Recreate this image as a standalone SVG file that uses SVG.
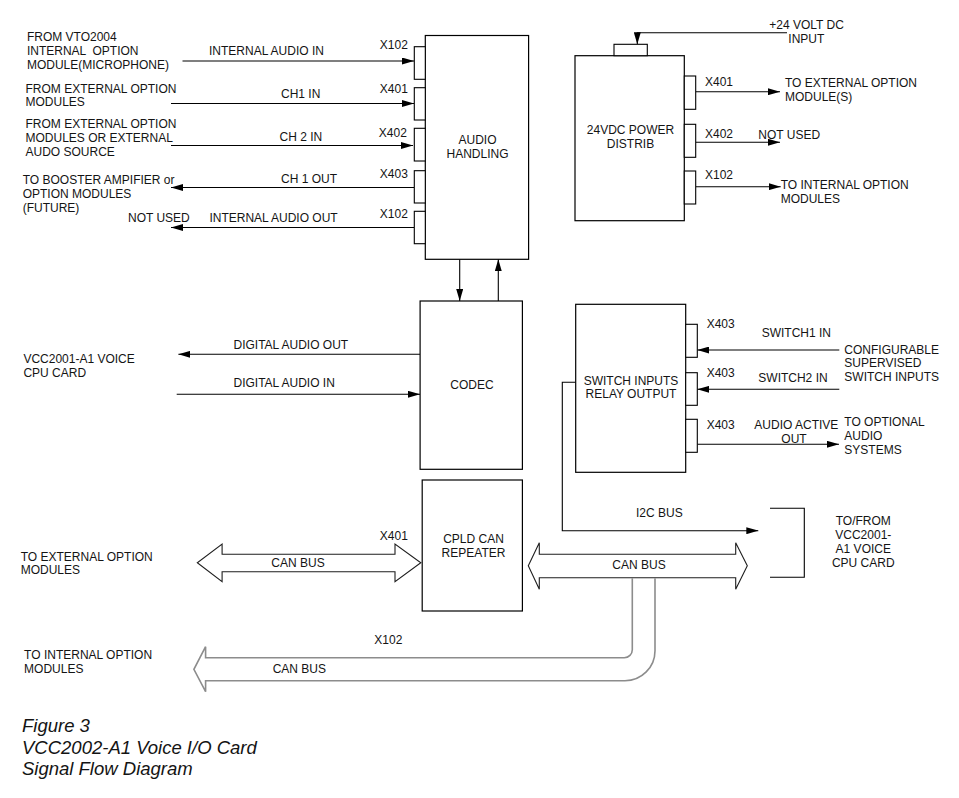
<svg xmlns="http://www.w3.org/2000/svg" width="959" height="798" viewBox="0 0 959 798">
<style>
text{font-family:"Liberation Sans",Arial,sans-serif;font-size:12px;fill:#141414}
.c{text-anchor:middle}
.cap{font-size:18.5px;font-style:italic}
.box{fill:#fff;stroke:#000;stroke-width:1.2}
.tab{fill:#fff;stroke:#000;stroke-width:1.1}
.ln{fill:none;stroke:#000;stroke-width:1.1}
.arr{marker-end:url(#ah)}
.bus{fill:#fff;stroke:#1e1e1e;stroke-width:1.1}
.gbus{fill:none;stroke:#8c8c8c;stroke-width:1.6}
</style>
<defs>
<marker id="ah" viewBox="0 0 12 7" refX="12" refY="3.5" markerWidth="12" markerHeight="7" markerUnits="userSpaceOnUse" orient="auto"><path d="M0,0 L12,3.5 L0,7 z" fill="#000"/></marker>
</defs>
<rect width="959" height="798" fill="#fff"/>

<g id="connectors">
<path class="ln arr" d="M182.5,61 H414"/>
<path class="ln arr" d="M171,103.5 H414"/>
<path class="ln arr" d="M171,145.5 H413"/>
<path class="ln arr" d="M414,187.5 H171"/>
<path class="ln arr" d="M414,227.5 H171"/>
<path class="ln arr" d="M459.7,259.3 V301"/>
<path class="ln arr" d="M498.3,301 V259.3"/>
<path class="ln arr" d="M420,354.3 H178.4"/>
<path class="ln arr" d="M176.7,394.3 H420"/>
<path class="ln arr" d="M787,32.7 H637.3 V44.3"/>
<path class="ln arr" d="M695.7,91.7 H780"/>
<path class="ln arr" d="M695.7,142.3 H780"/>
<path class="ln arr" d="M695.7,186.7 H780.7"/>
<path class="ln arr" d="M839.3,350 H697.3"/>
<path class="ln arr" d="M839.3,389.3 H697.3"/>
<path class="ln arr" d="M697.3,444.3 H839"/>
<path class="ln arr" d="M575.7,382.3 H562.3 V530.7 H758.3"/>
<path class="ln" d="M770,508.3 H804.3 V577.3 H770"/>
<path class="bus" d="M222.1,554.3 V544 L197.3,562.7 L222.1,581.7 V571.7 H395 V581.7 L420.8,562.7 L395,544 V554.3 Z"/>
<path class="bus" d="M539.3,554.3 V542.7 L528.3,565.7 L539.3,589.3 V577.7 H735.7 V589.3 L747.3,565.7 L735.7,542.7 V554.3 Z"/>
<path class="gbus" d="M632.3,578.3 V649.7 A8,8 0 0 1 624.3,657.7 H205.6 V646.7 L193.9,669.3 L205.6,691.7 V680.7 H625 A30,30 0 0 0 655,650.7 V578.3"/>
</g>

<g id="audio-handling">
<rect class="box" x="425.3" y="35.5" width="103.3" height="223.8"/>
<rect class="tab" x="414.3" y="46.7" width="11" height="32.6"/>
<rect class="tab" x="414.3" y="87.7" width="11" height="32.3"/>
<rect class="tab" x="414.3" y="128.3" width="11" height="32.7"/>
<rect class="tab" x="414.3" y="170.7" width="11" height="32.3"/>
<rect class="tab" x="414.3" y="211.3" width="11" height="32.4"/>
<text class="c" x="477.5" y="144">AUDIO</text>
<text class="c" x="477.5" y="157.7">HANDLING</text>
</g>

<g id="codec">
<rect class="box" x="420.1" y="301" width="102.3" height="168.3"/>
<text class="c" x="472" y="389">CODEC</text>
</g>

<g id="cpld">
<rect class="box" x="422.2" y="480" width="100.2" height="131"/>
<text class="c" x="473.5" y="542.7">CPLD CAN</text>
<text class="c" x="473.5" y="556.7">REPEATER</text>
</g>

<g id="power">
<rect class="box" x="575" y="55.7" width="109.3" height="165"/>
<rect class="tab" x="614" y="44.3" width="33.3" height="11.4"/>
<rect class="tab" x="684.3" y="76" width="11.4" height="33.3"/>
<rect class="tab" x="684.3" y="124.3" width="11.4" height="33"/>
<rect class="tab" x="684.3" y="171" width="11.4" height="33"/>
<text class="c" x="630.5" y="134.3">24VDC POWER</text>
<text class="c" x="630.5" y="147.7">DISTRIB</text>
</g>

<g id="switch">
<rect class="box" x="575.7" y="304.3" width="110" height="168"/>
<rect class="tab" x="685.7" y="324.3" width="11.6" height="33"/>
<rect class="tab" x="685.7" y="372.7" width="11.6" height="32.6"/>
<rect class="tab" x="685.7" y="419.3" width="11.6" height="33"/>
<text class="c" x="631" y="384.8">SWITCH INPUTS</text>
<text class="c" x="631" y="398">RELAY OUTPUT</text>
</g>

<g id="labels">
<text x="26.9" y="41">FROM VTO2004</text>
<text x="26.9" y="55" xml:space="preserve">INTERNAL  OPTION</text>
<text x="26.9" y="69">MODULE(MICROPHONE)</text>
<text x="25.5" y="93">FROM EXTERNAL OPTION</text>
<text x="25.5" y="106">MODULES</text>
<text x="25.5" y="128.3">FROM EXTERNAL OPTION</text>
<text x="25.5" y="142.3">MODULES OR EXTERNAL</text>
<text x="25.5" y="156">AUDO SOURCE</text>
<text x="22.7" y="184">TO BOOSTER AMPIFIER or</text>
<text x="22.7" y="197.7">OPTION MODULES</text>
<text x="22.7" y="211.7">(FUTURE)</text>
<text x="128" y="222.3">NOT USED</text>

<text x="209" y="55">INTERNAL AUDIO IN</text>
<text x="281" y="98.3">CH1 IN</text>
<text x="279.6" y="140.7">CH 2 IN</text>
<text x="281" y="182.7">CH 1 OUT</text>
<text x="209.4" y="222.3">INTERNAL AUDIO OUT</text>
<text x="379.8" y="49.3">X102</text>
<text x="379.8" y="92.7">X401</text>
<text x="378.8" y="136.7">X402</text>
<text x="379.8" y="177.7">X403</text>
<text x="379.8" y="217.7">X102</text>

<text x="233.5" y="349.3">DIGITAL AUDIO OUT</text>
<text x="233.5" y="387.3">DIGITAL AUDIO IN</text>
<text x="23.4" y="363.3">VCC2001-A1 VOICE</text>
<text x="23.4" y="376.7">CPU CARD</text>

<text x="769.3" y="29.3">+24 VOLT DC</text>
<text x="788.3" y="43.3">INPUT</text>
<text x="705" y="86">X401</text>
<text x="705" y="137.7">X402</text>
<text x="705" y="179.3">X102</text>
<text x="785" y="86.7">TO EXTERNAL OPTION</text>
<text x="785" y="100.7">MODULE(S)</text>
<text x="758.3" y="139">NOT USED</text>
<text x="780.7" y="189.3">TO INTERNAL OPTION</text>
<text x="780.7" y="203.3">MODULES</text>

<text x="706.7" y="327.7">X403</text>
<text x="706.7" y="376.7">X403</text>
<text x="706.7" y="429">X403</text>
<text x="761.7" y="336.7">SWITCH1 IN</text>
<text x="758.3" y="382.3">SWITCH2 IN</text>
<text x="754.3" y="429">AUDIO ACTIVE</text>
<text class="c" x="794" y="442.7">OUT</text>
<text x="844.3" y="354.3">CONFIGURABLE</text>
<text x="844.3" y="367.3">SUPERVISED</text>
<text x="844.3" y="380.7">SWITCH INPUTS</text>
<text x="844.3" y="426">TO OPTIONAL</text>
<text x="844.3" y="440">AUDIO</text>
<text x="844.3" y="454">SYSTEMS</text>

<text x="636" y="517.3">I2C BUS</text>
<text class="c" x="863.3" y="525">TO/FROM</text>
<text class="c" x="863.3" y="539">VCC2001-</text>
<text class="c" x="863.3" y="552.7">A1 VOICE</text>
<text class="c" x="863.3" y="566.7">CPU CARD</text>

<text x="379.8" y="540">X401</text>
<text x="271.3" y="566.7">CAN BUS</text>
<text class="c" x="639" y="569">CAN BUS</text>
<text x="20.7" y="560.7">TO EXTERNAL OPTION</text>
<text x="20.7" y="574.3">MODULES</text>
<text x="374.3" y="644">X102</text>
<text x="272.7" y="672.7">CAN BUS</text>
<text x="24.1" y="659.3">TO INTERNAL OPTION</text>
<text x="24.1" y="673.3">MODULES</text>

<text class="cap" x="22" y="731.7">Figure 3</text>
<text class="cap" x="22" y="754">VCC2002-A1 Voice I/O Card</text>
<text class="cap" x="22" y="775">Signal Flow Diagram</text>
</g>
</svg>
